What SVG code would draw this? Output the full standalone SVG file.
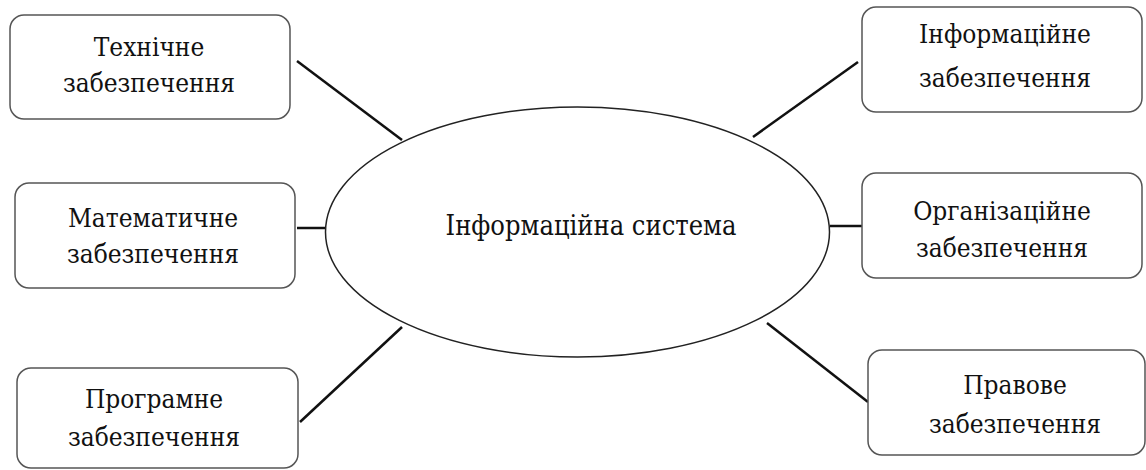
<svg xmlns="http://www.w3.org/2000/svg" width="1146" height="470" viewBox="0 0 1146 470">
<style>
.box{fill:#fff;stroke:#555;stroke-width:1.5}
.lbl{font-family:'DejaVu Serif Condensed','DejaVu Serif',serif;font-stretch:condensed;font-size:26px;fill:#111;text-anchor:middle}
.ctr{font-size:27px}
.con{stroke:#111;stroke-width:2.5;fill:none}
</style>
<rect width="1146" height="470" fill="#fff"/>
<g id="connectors">
<line class="con" x1="297" y1="61" x2="402" y2="140"/>
<line class="con" x1="858" y1="62" x2="753" y2="137"/>
<line class="con" x1="297" y1="228" x2="326" y2="228"/>
<line class="con" x1="830" y1="226" x2="862" y2="226"/>
<line class="con" x1="300" y1="422" x2="402" y2="327"/>
<line class="con" x1="767" y1="323" x2="868" y2="402"/>
</g>
<g id="center">
<ellipse cx="577.5" cy="232" rx="252" ry="125" fill="#fff" stroke="#222" stroke-width="1.5"/>
<text class="lbl ctr" x="591" y="235">Інформаційна система</text>
</g>
<g id="n1">
<rect class="box" x="10" y="15" width="280" height="104" rx="14"/>
<text class="lbl" x="149" y="56">Технічне</text>
<text class="lbl" x="149" y="92">забезпечення</text>
</g>
<g id="n2">
<rect class="box" x="862" y="7" width="280" height="105" rx="14"/>
<text class="lbl" x="1005" y="43">Інформаційне</text>
<text class="lbl" x="1005" y="87">забезпечення</text>
</g>
<g id="n3">
<rect class="box" x="15" y="183" width="280" height="105" rx="14"/>
<text class="lbl" x="153" y="227">Математичне</text>
<text class="lbl" x="153" y="263">забезпечення</text>
</g>
<g id="n4">
<rect class="box" x="862" y="173" width="280" height="105" rx="14"/>
<text class="lbl" x="1002" y="220">Організаційне</text>
<text class="lbl" x="1002" y="257">забезпечення</text>
</g>
<g id="n5">
<rect class="box" x="17" y="368" width="281" height="100" rx="14"/>
<text class="lbl" x="154" y="408">Програмне</text>
<text class="lbl" x="154" y="446">забезпечення</text>
</g>
<g id="n6">
<rect class="box" x="868" y="350" width="277" height="105" rx="14"/>
<text class="lbl" x="1015" y="394">Правове</text>
<text class="lbl" x="1015" y="433">забезпечення</text>
</g>
</svg>
